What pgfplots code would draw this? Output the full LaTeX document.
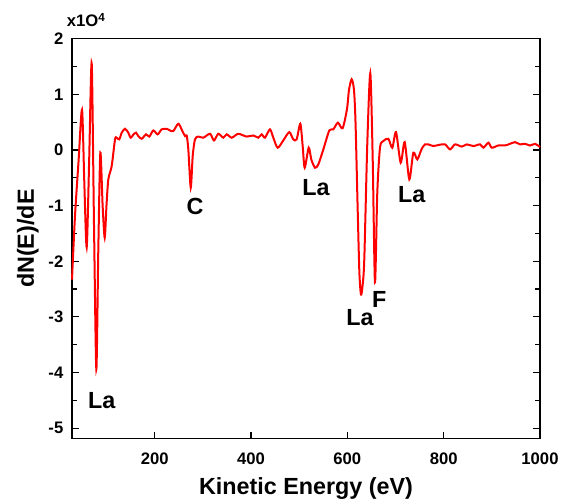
\documentclass[border=0pt]{standalone}
\usepackage{pgfplots}
\pgfplotsset{compat=1.18}
\usepackage{fontspec}
\setmainfont{Liberation Sans}
\begin{document}
\begin{tikzpicture}
\begin{axis}[
  scale only axis,
  width=351pt, height=300pt,
  xmin=28.4, xmax=1000,
  ymin=-5.19, ymax=2,
  axis line style={line width=0.9pt},
  tick style={line width=0.9pt, black},
  tick align=inside,
  major tick length=5pt,
  minor tick length=3.5pt,
  xtick={200,400,600,800,1000},
  xticklabels={200,400,600,800,1000},
  xtick pos=bottom,
  ytick={-5,-4,-3,-2,-1,0,1,2},
  yticklabels={-5,-4,-3,-2,-1,0,1,2},
  minor ytick={-4.5,-3.5,-2.5,-1.5,-0.5,0.5,1.5},
  ytick pos=both,
  yticklabel pos=left,
  tick label style={font=\bfseries\fontsize{12.5}{14}\selectfont},
  xticklabel style={yshift=-7pt},
  yticklabel style={xshift=-3pt},
  label style={font=\bfseries\fontsize{17.5}{20}\selectfont},
  xlabel={Kinetic Energy (eV)},
  ylabel={dN(E)/dE},
  xlabel style={yshift=-3pt},
  ylabel style={yshift=0.5pt},
  clip=false,
]
\addplot[red, line width=1.5pt, smooth, tension=0.45] coordinates {
(28.4,-2.33)(34.6,-1.19)(42,-0.2)(49.2,0.72)(54,-0.6)(58.9,-1.75)(64,-0.2)(69.3,1.56)
(74,-1.3)(78.9,-3.94)(83,-1.8)(87.2,-0.05)(92,-1.0)(96.3,-1.58)(100,-1.0)(103.8,-0.53)
(110.8,-0.29)(117.7,0.19)(121,0.22)(126.6,0.19)(131.6,0.31)(138.4,0.38)(145.3,0.31)
(150.3,0.22)(157.1,0.29)(161.3,0.31)(166,0.25)(173.1,0.2)(182,0.28)(188.9,0.24)
(197.2,0.35)(206.3,0.28)(214.6,0.37)(225,0.38)(231.9,0.35)(238.8,0.34)(249.2,0.47)
(257.5,0.34)(263.1,0.25)(266.5,0.26)(269.9,0.01)(274.9,-0.68)(279,-0.11)(283.7,0.19)
(290.6,0.24)(301,0.22)(314.9,0.29)(323.2,0.17)(332.1,0.29)(342.5,0.22)(349.6,0.28)
(360,0.22)(373.6,0.29)(391,0.24)(404.8,0.26)(415.2,0.22)(422.2,0.28)(429,0.22)
(439.4,0.37)(446.3,0.22)(455.4,0.04)(467,0.17)(479.5,0.32)(487.8,0.19)(494.8,0.19)
(502.4,0.47)(507.3,0.07)(511.5,-0.32)(519.8,0.04)(525.2,-0.17)(532.9,-0.32)(539.8,-0.26)
(550.2,0.01)(562.6,0.35)(570.9,0.37)(580.3,0.49)(590.2,0.39)(599.2,0.73)(603.5,1.08)
(609,1.27)(613.8,1.08)(617,0.5)(621.5,-1.07)(625,-2.2)(628.3,-2.60)(631.5,-2.45)
(635.2,-1.97)(641.5,0.13)(647.7,1.38)(652.7,-0.17)(657.4,-2.38)(662.2,-0.77)(667.8,0.04)
(674.7,0.16)(685.1,0.2)(693.4,0.04)(701.1,0.32)(710.8,-0.23)(719.1,0.14)(728.7,-0.53)
(737,-0.05)(745.3,-0.17)(754.4,0.02)(761.3,0.10)(768.1,0.10)(778.5,0.07)(790,0.09)
(802.9,0.10)(813.3,0.01)(823.7,0.10)(837.6,0.06)(848,0.10)(861.7,0.07)(875.6,0.10)
(882.5,0.04)(892.9,0.13)(899.9,0.04)(913.6,0.08)(927.5,0.08)(937.8,0.11)(948.2,0.14)
(958.6,0.10)(969,0.11)(979.4,0.08)(989.8,0.11)(998.8,0.06)(1000,0.07)
};
\begin{scope}[every node/.style={font=\bfseries\fontsize{17.5}{20}\selectfont, inner sep=0pt}]
\node at (axis cs:284,-1.01) {C};
\node at (axis cs:90,-4.51) {La};
\node at (axis cs:535,-0.68) {La};
\node at (axis cs:733.6,-0.80) {La};
\node at (axis cs:626.3,-3.01) {La};
\node at (axis cs:666.4,-2.69) {F};
\end{scope}
\node[anchor=south west, inner sep=0pt, font=\bfseries\fontsize{12.5}{14}\selectfont]
  at ([xshift=-4pt,yshift=8.5pt]current axis.north west) {x1O\textsuperscript{4}};
\end{axis}
\path[use as bounding box] ([xshift=-54pt,yshift=-45pt]current axis.south west) rectangle ([xshift=19.5pt,yshift=29pt]current axis.north east);
\end{tikzpicture}
\end{document}
